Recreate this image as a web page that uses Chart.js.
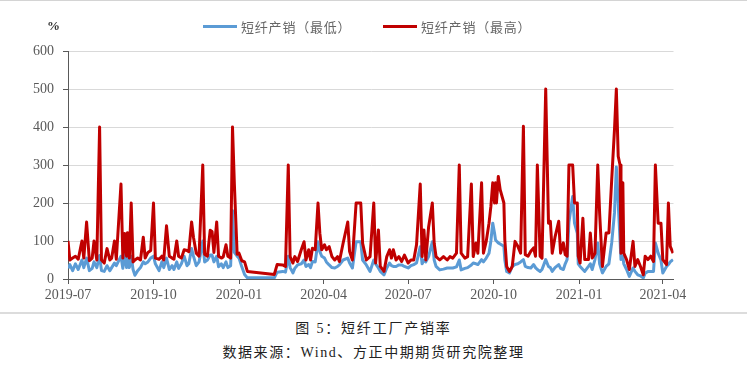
<!DOCTYPE html>
<html>
<head>
<meta charset="utf-8">
<script src="https://cdn.jsdelivr.net/npm/chart.js@4/dist/chart.umd.min.js"></script>
<style>
  html,body{margin:0;padding:0;background:#fff;}
  #wrap{position:relative;width:747px;height:366px;overflow:hidden;background:#fff;}
  #topline{position:absolute;left:0;top:0;width:747px;height:1px;background:#d4d4d4;}
  #sep{position:absolute;left:0;top:312px;width:747px;height:2px;background:#dcdcdc;}
  #c{position:absolute;left:0;top:0;}
  #unit{position:absolute;left:47px;top:18px;font:bold 13px "Liberation Serif","Noto Sans CJK SC";color:#333;}
  .leg{position:absolute;top:17px;height:18px;display:flex;align-items:center;font:13px "Noto Sans CJK SC";letter-spacing:0.8px;color:#666;white-space:nowrap;}
  .sw{display:inline-block;width:34px;height:3px;margin-right:4px;}
  .cap{position:absolute;left:0;width:747px;text-align:center;font:14px "Liberation Serif","Noto Sans CJK SC";color:#222;white-space:nowrap;}
</style>
</head>
<body>
<div id="wrap">
  <div id="topline"></div>
  <canvas id="c" width="747" height="310"></canvas>
  <div id="unit"></div>
  <div id="legend"></div>
  <div id="sep"></div>
  <div class="cap" id="cap1" style="top:317px;letter-spacing:1.8px;"></div>
  <div class="cap" id="cap2" style="top:341px;letter-spacing:1.6px;"></div>
</div>
<script>
// ---------------- data ----------------
const unitLabel = "%";
const seriesNames = ["短纤产销（最低）", "短纤产销（最高）"];
const seriesColors = ["#5B9BD5", "#C00000"];
const captionTitle = "图 5：短纤工厂产销率";
const captionSource = "数据来源：Wind、方正中期期货研究院整理";
const tickLabels = ["2019-07","2019-10","2020-01","2020-04","2020-07","2020-10","2021-01","2021-04"];
const yTicks = [0,100,200,300,400,500,600];

const dates = [
 "2019-07-01","2019-07-03","2019-07-06","2019-07-09","2019-07-12","2019-07-16","2019-07-18","2019-07-21","2019-07-24","2019-07-27","2019-07-29",
 "2019-08-01","2019-08-04","2019-08-06","2019-08-09","2019-08-12","2019-08-15","2019-08-17","2019-08-20","2019-08-22","2019-08-27","2019-08-29","2019-08-31",
 "2019-09-02","2019-09-03","2019-09-05","2019-09-07","2019-09-09","2019-09-11","2019-09-14","2019-09-17","2019-09-20","2019-09-22","2019-09-25","2019-09-28",
 "2019-10-01","2019-10-03","2019-10-07","2019-10-10","2019-10-12","2019-10-15","2019-10-18","2019-10-21","2019-10-23","2019-10-26","2019-10-28","2019-10-31",
 "2019-11-03","2019-11-06","2019-11-08","2019-11-11","2019-11-13","2019-11-16","2019-11-19","2019-11-23","2019-11-25","2019-11-28",
 "2019-12-01","2019-12-03","2019-12-05","2019-12-08","2019-12-10","2019-12-13","2019-12-15","2019-12-18","2019-12-20","2019-12-23","2019-12-25","2019-12-27","2019-12-30",
 "2020-01-01","2020-01-04","2020-01-07","2020-01-10",
 "2020-02-08","2020-02-11","2020-02-17","2020-02-20","2020-02-23","2020-02-25","2020-02-28",
 "2020-03-01","2020-03-04","2020-03-08","2020-03-11","2020-03-13","2020-03-16","2020-03-18","2020-03-20","2020-03-23","2020-03-26","2020-03-28","2020-03-30",
 "2020-04-02","2020-04-04","2020-04-07","2020-04-10","2020-04-13","2020-04-16","2020-04-18","2020-04-22","2020-04-27","2020-04-29",
 "2020-05-02","2020-05-06","2020-05-11","2020-05-13","2020-05-17","2020-05-21","2020-05-25","2020-05-27","2020-05-30",
 "2020-06-01","2020-06-05","2020-06-08","2020-06-11","2020-06-13","2020-06-15","2020-06-18","2020-06-21","2020-06-24","2020-06-27",
 "2020-07-01","2020-07-04","2020-07-07","2020-07-10","2020-07-14","2020-07-16","2020-07-18","2020-07-20","2020-07-23","2020-07-27","2020-07-29","2020-07-31",
 "2020-08-04","2020-08-08","2020-08-12","2020-08-15","2020-08-18","2020-08-22","2020-08-25","2020-08-27","2020-08-31",
 "2020-09-03","2020-09-07","2020-09-09","2020-09-12","2020-09-14","2020-09-18","2020-09-20","2020-09-23","2020-09-26","2020-09-28","2020-09-30",
 "2020-10-02","2020-10-03","2020-10-04","2020-10-06","2020-10-08","2020-10-12","2020-10-13","2020-10-15","2020-10-18","2020-10-21","2020-10-24","2020-10-27","2020-10-30",
 "2020-11-02","2020-11-04","2020-11-07","2020-11-10","2020-11-13","2020-11-15","2020-11-17","2020-11-20","2020-11-22","2020-11-26","2020-11-29",
 "2020-12-01","2020-12-03","2020-12-06","2020-12-10","2020-12-12","2020-12-15","2020-12-17","2020-12-19","2020-12-21","2020-12-25","2020-12-27","2020-12-30","2020-12-31",
 "2021-01-02","2021-01-05","2021-01-07","2021-01-11","2021-01-13","2021-01-15","2021-01-18","2021-01-21","2021-01-23","2021-01-26","2021-01-30",
 "2021-02-02","2021-02-05","2021-02-08","2021-02-10","2021-02-12","2021-02-14","2021-02-15","2021-02-17","2021-02-18","2021-02-21","2021-02-24","2021-02-28",
 "2021-03-02","2021-03-05","2021-03-08","2021-03-11","2021-03-13","2021-03-16","2021-03-19","2021-03-22","2021-03-24","2021-03-27","2021-03-30",
 "2021-04-01","2021-04-05","2021-04-07","2021-04-09","2021-04-12"
];

const lowRates = [
 28,38,22,40,25,50,30,55,22,28,45,
 30,62,22,20,35,22,30,42,35,60,28,65,
 30,55,30,60,25,10,22,30,45,40,45,55,
 60,40,22,45,30,55,25,35,25,45,28,40,
 60,35,40,80,60,35,45,100,45,50,
 63,63,45,60,32,40,30,45,30,35,180,70,60,
 55,32,12,3,
 3,18,20,18,60,30,16,
 28,37,40,50,33,38,30,46,45,98,72,60,
 55,45,37,30,29,33,37,50,55,42,
 29,98,98,50,37,20,50,40,29,
 20,11,29,42,35,33,33,37,37,33,
 29,35,38,42,85,40,50,45,59,98,50,33,
 24,26,29,29,29,32,50,24,28,
 30,37,42,40,38,51,45,55,68,100,147,
 120,103,100,95,92,86,50,20,16,33,38,40,45,
 51,33,30,29,38,30,25,20,25,51,33,
 30,20,30,38,28,25,40,51,150,217,147,120,40,
 33,25,20,33,40,25,51,95,40,16,33,
 40,95,174,295,200,100,51,60,40,25,7,29,
 20,11,8,3,15,20,20,20,95,68,50,
 16,33,38,45,51
];

const highRates = [
 100,50,55,60,52,100,55,150,48,55,100,
 50,400,50,42,80,50,55,100,52,250,55,120,
 60,122,55,200,45,50,55,50,110,55,70,75,
 200,55,52,60,50,140,60,55,52,100,60,55,
 77,75,72,150,110,68,60,300,65,60,
 128,125,70,150,60,55,58,90,60,55,400,250,65,
 68,48,45,20,
 12,38,37,33,300,59,42,
 59,46,77,98,50,77,50,81,77,200,120,77,
 90,77,85,59,50,59,46,94,150,72,
 50,200,200,94,50,59,200,42,129,
 33,20,59,77,55,77,50,59,46,63,
 42,50,50,90,250,59,129,50,137,200,94,59,
 50,59,50,59,55,68,300,68,55,
 59,250,59,95,68,253,68,99,147,191,253,
 200,253,200,270,235,200,103,33,20,33,99,86,68,
 402,64,60,73,82,60,300,60,55,500,147,
 152,68,110,152,68,95,64,60,300,300,200,200,60,
 42,160,51,51,121,55,68,300,174,33,121,
 121,261,393,500,323,300,68,253,68,51,25,99,
 33,51,33,11,60,51,60,46,300,147,147,
 51,38,200,86,68
];

// ---------------- helpers ----------------
const BASE = Date.UTC(2019, 6, 1);
function dayOffset(s) {
  const p = s.split("-").map(Number);
  return (Date.UTC(p[0], p[1] - 1, p[2] || 1) - BASE) / 86400000;
}
const tickDays = tickLabels.map(dayOffset);
const lowPts = dates.map((d, i) => ({x: dayOffset(d), y: lowRates[i]}));
const highPts = dates.map((d, i) => ({x: dayOffset(d), y: highRates[i]}));

// ---------------- text elements ----------------
document.getElementById("unit").textContent = unitLabel;
document.getElementById("cap1").textContent = captionTitle;
document.getElementById("cap2").textContent = captionSource;
const legPos = [203, 383];
const legendEl = document.getElementById("legend");
seriesNames.forEach((n, i) => {
  const item = document.createElement("div");
  item.className = "leg";
  item.style.left = legPos[i] + "px";
  const sw = document.createElement("span");
  sw.className = "sw";
  sw.style.background = seriesColors[i];
  const tx = document.createElement("span");
  tx.textContent = n;
  item.appendChild(sw); item.appendChild(tx);
  legendEl.appendChild(item);
});

// ---------------- chart ----------------
const axisColor = "#595959";
const tickFont = {family: "Liberation Serif", size: 14};
new Chart(document.getElementById("c"), {
  type: "line",
  data: {
    datasets: [
      {label: seriesNames[0], data: lowPts, borderColor: seriesColors[0], backgroundColor: seriesColors[0],
       borderWidth: 3, pointRadius: 0, tension: 0, order: 1, borderJoinStyle: "round"},
      {label: seriesNames[1], data: highPts, borderColor: seriesColors[1], backgroundColor: seriesColors[1],
       borderWidth: 3, pointRadius: 0, tension: 0, order: 0, borderJoinStyle: "round"}
    ]
  },
  options: {
    responsive: false,
    animation: false,
    events: [],
    layout: {padding: {left: 0, right: 73.5, top: 51, bottom: 0}},
    plugins: {legend: {display: false}, tooltip: {enabled: false}},
    scales: {
      x: {
        type: "linear",
        min: 0,
        max: dayOffset(dates[dates.length - 1]) + 0.5,
        afterBuildTicks: s => { s.ticks = tickDays.map(v => ({value: v})); },
        afterFit: s => { s.height = 31; },
        ticks: {
          autoSkip: false, maxRotation: 0, minRotation: 0, padding: 3,
          color: axisColor, font: tickFont,
          callback: (v) => { const i = tickDays.indexOf(v); return i >= 0 ? tickLabels[i] : ""; }
        },
        grid: {drawOnChartArea: false, drawTicks: true, tickLength: 5, tickColor: axisColor},
        border: {color: axisColor, width: 1}
      },
      y: {
        min: 0, max: 600,
        afterBuildTicks: s => { s.ticks = yTicks.map(v => ({value: v})); },
        afterFit: s => { s.width = 68; },
        ticks: {padding: 9, color: axisColor, font: tickFont},
        grid: {color: "#d9d9d9", lineWidth: 1, tickLength: 5, tickColor: axisColor},
        border: {color: axisColor, width: 1}
      }
    }
  }
});
</script>
</body>
</html>
